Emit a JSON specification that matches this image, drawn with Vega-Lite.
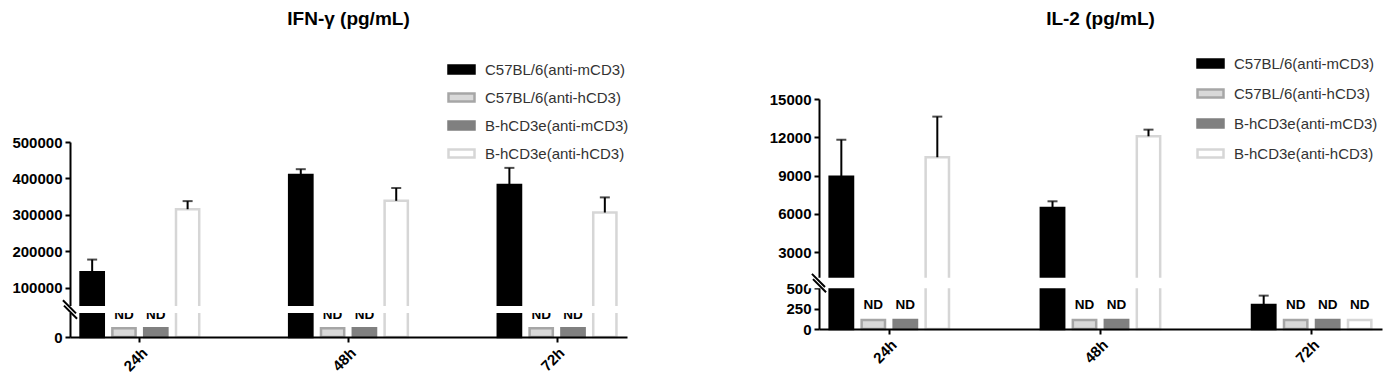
{
  "$schema": "https://vega.github.io/schema/vega-lite/v6.json",
  "padding": {"left": 11, "top": 10, "right": 5, "bottom": 5},
  "background": "white",
  "config": {
    "view": {"stroke": null},
    "font": "Liberation Sans",
    "axis": {"domainColor": "#000000", "domainWidth": 2, "tickColor": "#000000", "tickWidth": 2, "tickSize": 5, "labelColor": "#000000", "labelFont": "Liberation Sans", "labelFontWeight": "bold", "grid": false, "title": null, "labelOverlap": false}
  },
  "datasets": {
    "ifn": [
      {"time": "24h", "group": "C57BL/6(anti-mCD3)", "value": 142300, "hi": 177400, "nd": false},
      {"time": "24h", "group": "C57BL/6(anti-hCD3)", "value": 11000, "hi": null, "nd": true},
      {"time": "24h", "group": "B-hCD3e(anti-mCD3)", "value": 11000, "hi": null, "nd": true},
      {"time": "24h", "group": "B-hCD3e(anti-hCD3)", "value": 315600, "hi": 337800, "nd": false},
      {"time": "48h", "group": "C57BL/6(anti-mCD3)", "value": 409600, "hi": 425400, "nd": false},
      {"time": "48h", "group": "C57BL/6(anti-hCD3)", "value": 11000, "hi": null, "nd": true},
      {"time": "48h", "group": "B-hCD3e(anti-mCD3)", "value": 11000, "hi": null, "nd": true},
      {"time": "48h", "group": "B-hCD3e(anti-hCD3)", "value": 338600, "hi": 373700, "nd": false},
      {"time": "72h", "group": "C57BL/6(anti-mCD3)", "value": 382000, "hi": 429000, "nd": false},
      {"time": "72h", "group": "C57BL/6(anti-hCD3)", "value": 11000, "hi": null, "nd": true},
      {"time": "72h", "group": "B-hCD3e(anti-mCD3)", "value": 11000, "hi": null, "nd": true},
      {"time": "72h", "group": "B-hCD3e(anti-hCD3)", "value": 306500, "hi": 348000, "nd": false}
    ],
    "il2": [
      {"time": "24h", "group": "C57BL/6(anti-mCD3)", "value": 8920, "hi": 11810, "nd": false},
      {"time": "24h", "group": "C57BL/6(anti-hCD3)", "value": 110, "hi": null, "nd": true},
      {"time": "24h", "group": "B-hCD3e(anti-mCD3)", "value": 110, "hi": null, "nd": true},
      {"time": "24h", "group": "B-hCD3e(anti-hCD3)", "value": 10440, "hi": 13620, "nd": false},
      {"time": "48h", "group": "C57BL/6(anti-mCD3)", "value": 6470, "hi": 6990, "nd": false},
      {"time": "48h", "group": "C57BL/6(anti-hCD3)", "value": 110, "hi": null, "nd": true},
      {"time": "48h", "group": "B-hCD3e(anti-mCD3)", "value": 110, "hi": null, "nd": true},
      {"time": "48h", "group": "B-hCD3e(anti-hCD3)", "value": 12080, "hi": 12600, "nd": false},
      {"time": "72h", "group": "C57BL/6(anti-mCD3)", "value": 295, "hi": 410, "nd": false},
      {"time": "72h", "group": "C57BL/6(anti-hCD3)", "value": 110, "hi": null, "nd": true},
      {"time": "72h", "group": "B-hCD3e(anti-mCD3)", "value": 110, "hi": null, "nd": true},
      {"time": "72h", "group": "B-hCD3e(anti-hCD3)", "value": 110, "hi": null, "nd": true}
    ]
  },
  "hconcat": [
    {
      "width": 557,
      "height": 288,
      "title": {"text": "IFN-γ (pg/mL)", "fontSize": 19, "fontWeight": "bold", "font": "Liberation Sans", "anchor": "middle", "offset": 20, "color": "#000000"},
      "data": {"name": "ifn"},
      "layer": [
        {
          "encoding": {
            "x": {"field": "time", "type": "nominal", "sort": null, "scale": {"paddingInner": 0.39, "paddingOuter": 0.03}, "axis": {"labelAngle": -45, "labelFontSize": 15, "labelPadding": 3, "zindex": 1}},
            "xOffset": {"field": "group", "type": "nominal", "sort": null, "scale": {"domain": ["C57BL/6(anti-mCD3)", "C57BL/6(anti-hCD3)", "B-hCD3e(anti-mCD3)", "B-hCD3e(anti-hCD3)"], "paddingInner": 0.27, "paddingOuter": 0.135}},
            "y": {"field": "value", "type": "quantitative", "scale": {"domain": [0, 30000, 50000, 500000], "range": [288, 264, 257, 93], "nice": false, "zero": false}, "axis": {"values": [0, 100000, 200000, 300000, 400000, 500000], "tickCount": 20, "format": "d", "labelFontSize": 15, "labelPadding": 3, "labelOverlap": false, "zindex": 0}}
          },
          "layer": [
            {
              "mark": {"type": "bar", "strokeWidth": 2.5},
              "encoding": {
                "fill": {"field": "group", "type": "nominal", "scale": {"domain": ["C57BL/6(anti-mCD3)", "C57BL/6(anti-hCD3)", "B-hCD3e(anti-mCD3)", "B-hCD3e(anti-hCD3)"], "range": ["#000000", "#d9d9d9", "#808080", "#ffffff"]}, "legend": {"title": null, "orient": "none", "legendX": 376, "legendY": 13, "symbolType": "M-1,-0.8H4.2V0.8H-1Z", "symbolSize": 100, "symbolStrokeWidth": 2.5, "labelFontSize": 15, "labelFont": "Liberation Sans", "labelColor": "#333333", "labelOffset": 24, "rowPadding": 9}},
                "stroke": {"field": "group", "type": "nominal", "scale": {"domain": ["C57BL/6(anti-mCD3)", "C57BL/6(anti-hCD3)", "B-hCD3e(anti-mCD3)", "B-hCD3e(anti-hCD3)"], "range": ["#000000", "#a6a6a6", "#808080", "#d6d6d6"]}, "legend": {"title": null, "orient": "none", "legendX": 376, "legendY": 13, "symbolType": "M-1,-0.8H4.2V0.8H-1Z", "symbolSize": 100, "symbolStrokeWidth": 2.5, "labelFontSize": 15, "labelFont": "Liberation Sans", "labelColor": "#333333", "labelOffset": 24, "rowPadding": 9}}
              }
            },
            {
              "transform": [{"filter": "isValid(datum.hi)"}],
              "mark": {"type": "rule", "color": "#000000", "strokeWidth": 2},
              "encoding": {"y2": {"field": "hi"}}
            },
            {
              "transform": [{"filter": "isValid(datum.hi)"}],
              "mark": {"type": "tick", "color": "#000000", "size": 10, "thickness": 2, "orient": "horizontal"},
              "encoding": {"y": {"field": "hi", "type": "quantitative"}}
            },
            {
              "transform": [{"filter": "datum.nd"}],
              "mark": {"type": "text", "text": "ND", "fontWeight": "bold", "fontSize": 13.5, "dy": -13, "color": "#000000"}
            }
          ]
        },
        {
          "data": {"values": [{}]},
          "layer": [
            {
              "mark": {"type": "rect", "color": "#ffffff"},
              "encoding": {
                "x": {"datum": -0.02, "type": "quantitative", "scale": {"domain": [0, 1], "nice": false, "zero": false}, "axis": null},
                "x2": {"datum": 1},
                "y": {"datum": 30000, "type": "quantitative"},
                "y2": {"datum": 50000}
              }
            },
            {
              "mark": {"type": "point", "shape": "M-1,-1.3L0.85,0.55M-0.85,-0.55L1,1.3", "filled": false, "size": 200, "strokeWidth": 2, "color": "#000000", "opacity": 1},
              "encoding": {
                "x": {"datum": 0, "type": "quantitative"},
                "y": {"datum": 40000, "type": "quantitative"}
              }
            }
          ]
        }
      ],
      "resolve": {"scale": {"x": "independent"}}
    },
    {
      "width": 563,
      "height": 280,
      "title": {"text": "IL-2 (pg/mL)", "fontSize": 19, "fontWeight": "bold", "font": "Liberation Sans", "anchor": "middle", "offset": 20, "color": "#000000"},
      "data": {"name": "il2"},
      "layer": [
        {
          "encoding": {
            "x": {"field": "time", "type": "nominal", "sort": null, "scale": {"paddingInner": 0.394, "paddingOuter": 0.03}, "axis": {"labelAngle": -45, "labelFontSize": 15, "labelPadding": 3, "zindex": 1}},
            "xOffset": {"field": "group", "type": "nominal", "sort": null, "scale": {"domain": ["C57BL/6(anti-mCD3)", "C57BL/6(anti-hCD3)", "B-hCD3e(anti-mCD3)", "B-hCD3e(anti-hCD3)"], "paddingInner": 0.27, "paddingOuter": 0.135}},
            "y": {"field": "value", "type": "quantitative", "scale": {"domain": [0, 500, 1000, 15000], "range": [280, 239.3, 228.8, 50], "nice": false, "zero": false}, "axis": {"values": [0, 250, 500, 3000, 6000, 9000, 12000, 15000], "tickCount": 20, "format": "d", "labelFontSize": 15, "labelPadding": 3, "labelOverlap": false, "zindex": 0}}
          },
          "layer": [
            {
              "mark": {"type": "bar", "strokeWidth": 2.5},
              "encoding": {
                "fill": {"field": "group", "type": "nominal", "scale": {"domain": ["C57BL/6(anti-mCD3)", "C57BL/6(anti-hCD3)", "B-hCD3e(anti-mCD3)", "B-hCD3e(anti-hCD3)"], "range": ["#000000", "#d9d9d9", "#808080", "#ffffff"]}, "legend": {"title": null, "orient": "none", "legendX": 376, "legendY": 7, "symbolType": "M-1,-0.8H4.2V0.8H-1Z", "symbolSize": 100, "symbolStrokeWidth": 2.5, "labelFontSize": 15, "labelFont": "Liberation Sans", "labelColor": "#333333", "labelOffset": 24, "rowPadding": 11}},
                "stroke": {"field": "group", "type": "nominal", "scale": {"domain": ["C57BL/6(anti-mCD3)", "C57BL/6(anti-hCD3)", "B-hCD3e(anti-mCD3)", "B-hCD3e(anti-hCD3)"], "range": ["#000000", "#a6a6a6", "#808080", "#d6d6d6"]}, "legend": {"title": null, "orient": "none", "legendX": 376, "legendY": 7, "symbolType": "M-1,-0.8H4.2V0.8H-1Z", "symbolSize": 100, "symbolStrokeWidth": 2.5, "labelFontSize": 15, "labelFont": "Liberation Sans", "labelColor": "#333333", "labelOffset": 24, "rowPadding": 11}}
              }
            },
            {
              "transform": [{"filter": "isValid(datum.hi)"}],
              "mark": {"type": "rule", "color": "#000000", "strokeWidth": 2},
              "encoding": {"y2": {"field": "hi"}}
            },
            {
              "transform": [{"filter": "isValid(datum.hi)"}],
              "mark": {"type": "tick", "color": "#000000", "size": 10, "thickness": 2, "orient": "horizontal"},
              "encoding": {"y": {"field": "hi", "type": "quantitative"}}
            },
            {
              "transform": [{"filter": "datum.nd"}],
              "mark": {"type": "text", "text": "ND", "fontWeight": "bold", "fontSize": 13.5, "dy": -15, "color": "#000000"}
            }
          ]
        },
        {
          "data": {"values": [{}]},
          "layer": [
            {
              "mark": {"type": "rect", "color": "#ffffff"},
              "encoding": {
                "x": {"datum": -0.02, "type": "quantitative", "scale": {"domain": [0, 1], "nice": false, "zero": false}, "axis": null},
                "x2": {"datum": 1},
                "y": {"datum": 500, "type": "quantitative"},
                "y2": {"datum": 1000}
              }
            },
            {
              "mark": {"type": "point", "shape": "M-1,-1.3L0.85,0.55M-0.85,-0.55L1,1.3", "filled": false, "size": 200, "strokeWidth": 2, "color": "#000000", "opacity": 1},
              "encoding": {
                "x": {"datum": 0, "type": "quantitative"},
                "y": {"datum": 750, "type": "quantitative"}
              }
            }
          ]
        }
      ],
      "resolve": {"scale": {"x": "independent"}}
    }
  ],
  "spacing": 192,
  "bounds": "flush",
  "resolve": {"scale": {"fill": "independent", "stroke": "independent", "y": "independent", "x": "independent", "xOffset": "independent"}, "legend": {"fill": "independent", "stroke": "independent"}}
}
